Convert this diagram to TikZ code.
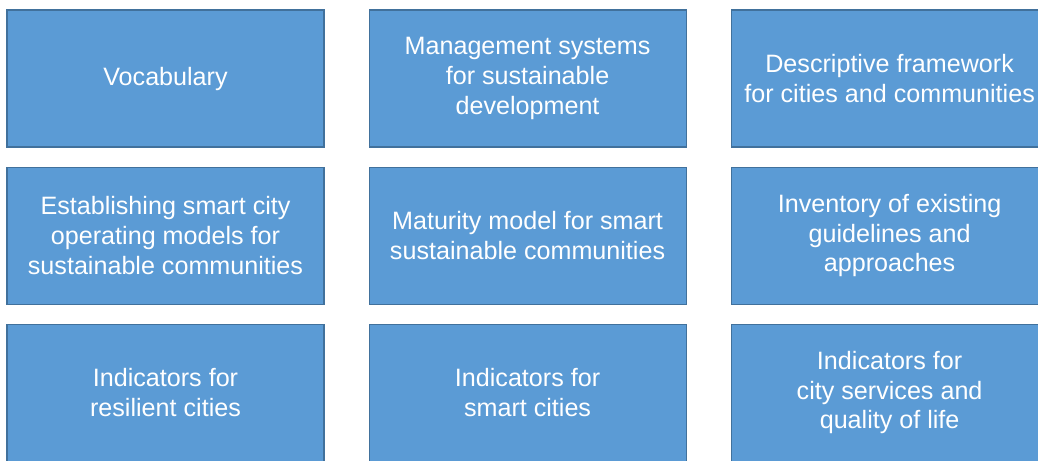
\documentclass[tikz,border=0pt]{standalone}
\usepackage{fontspec}
\setmainfont{Liberation Sans}
\usetikzlibrary{positioning}
\definecolor{Tile}{HTML}{5B9BD5}
\definecolor{TileEdge}{HTML}{41719C}

\begin{document}
\begin{tikzpicture}[
    every node/.style={font=\fontsize{14.3}{17}\selectfont},
    card/.style={rectangle, fill=Tile, draw=TileEdge, line width=0.6pt,
      text=white, align=center, minimum width=6.34cm, minimum height=2.74cm,
      inner sep=0pt},
    node distance=0.38cm and 0.88cm]
  \useasboundingbox (0,0) rectangle (20.76,-9.2);
  \clip (0,0) rectangle (20.76,-9.2);
  % first row
  \node[card] (vocab) at (3.31,-1.57) {Vocabulary};
  \node[card, right=of vocab] (mgmt) {Management systems\\for sustainable\\development};
  \node[card, right=of mgmt] (descr) {Descriptive framework\\for cities and communities};
  % second row
  \node[card, below=of vocab] (estab) {Establishing smart city\\operating models for\\sustainable communities};
  \node[card, right=of estab] (matur) {Maturity model for smart\\sustainable communities};
  \node[card, right=of matur] (inven) {Inventory of existing\\guidelines and\\approaches};
  % third row
  \node[card, below=of estab] (resil) {Indicators for\\resilient cities};
  \node[card, right=of resil] (smart) {Indicators for\\smart cities};
  \node[card, right=of smart] (qol) {Indicators for\\city services and\\quality of life};
\end{tikzpicture}
\end{document}
